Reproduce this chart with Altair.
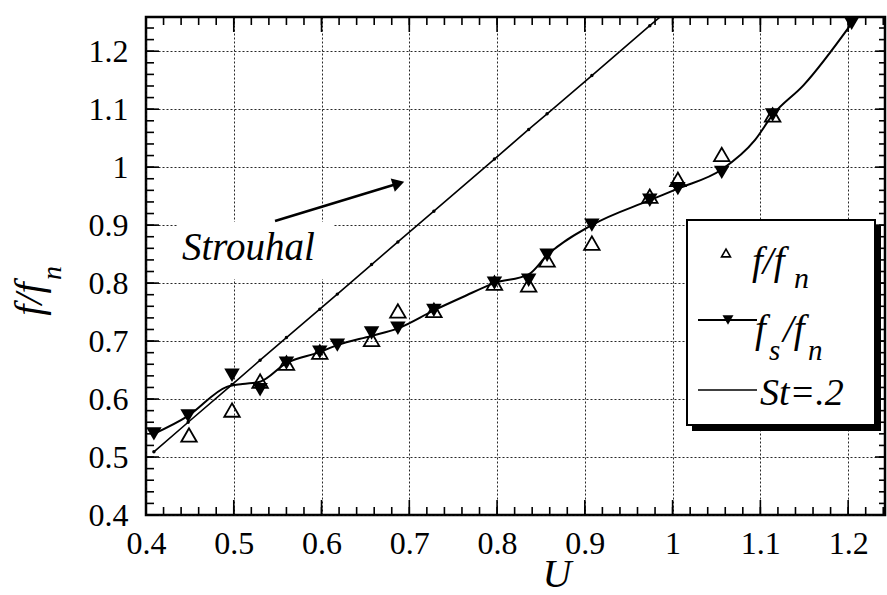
import altair as alt
import pandas as pd

# ---------------- data ----------------
# f_s/f_n : filled down-triangles
U_fs = [0.409, 0.448, 0.498, 0.530, 0.560, 0.598, 0.618, 0.657, 0.687, 0.728,
        0.797, 0.836, 0.857, 0.908, 0.974, 1.006, 1.056, 1.114, 1.204]
F_fs = [0.540, 0.571, 0.641, 0.616, 0.662, 0.681, 0.693, 0.714, 0.722, 0.753,
        0.800, 0.805, 0.848, 0.900, 0.943, 0.963, 0.991, 1.090, 1.248]

# smooth curve drawn through the f_s/f_n data
U_curve = [0.409, 0.448, 0.492, 0.510, 0.530, 0.560, 0.598, 0.618, 0.657, 0.687,
           0.728, 0.761, 0.797, 0.836, 0.857, 0.908, 0.974, 1.006, 1.056, 1.094,
           1.114, 1.149, 1.204]
F_curve = [0.540, 0.571, 0.621, 0.626, 0.630, 0.662, 0.681, 0.693, 0.709, 0.722,
           0.753, 0.776, 0.800, 0.815, 0.848, 0.900, 0.943, 0.963, 0.996, 1.047,
           1.090, 1.141, 1.248]

# f/f_n : open up-triangles
U_f = [0.449, 0.498, 0.530, 0.560, 0.598, 0.657, 0.687, 0.728, 0.797, 0.836,
       0.857, 0.908, 0.974, 1.006, 1.056, 1.114]
F_f = [0.538, 0.581, 0.631, 0.662, 0.681, 0.703, 0.752, 0.753, 0.800, 0.797,
       0.840, 0.869, 0.950, 0.979, 1.022, 1.090]

# Strouhal line St = .2 (small dots) and its end at the frame top
U_st = [0.409, 0.448, 0.498, 0.530, 0.560, 0.598, 0.618, 0.657, 0.687, 0.728,
        0.797, 0.836, 0.857, 0.908, 0.974]
F_st = [0.509, 0.560, 0.625, 0.667, 0.706, 0.755, 0.781, 0.832, 0.871, 0.924,
        1.014, 1.065, 1.092, 1.158, 1.244]
U_st_end = [0.995]
F_st_end = [1.271]

# annotation arrow (data coordinates)
ARROW_U = [0.547, 0.6855]
ARROW_F = [0.907, 0.971]

x_major = [0.4, 0.5, 0.6, 0.7, 0.8, 0.9, 1.0, 1.1, 1.2]
y_major = [0.4, 0.5, 0.6, 0.7, 0.8, 0.9, 1.0, 1.1, 1.2]
x_minor = [round(0.4 + 0.02 * i, 2) for i in range(43)]
y_minor = [round(0.4 + 0.02 * i, 2) for i in range(43)]

# ---------------- layout ----------------
W, H = 739, 498
XD = [0.4, 1.242]
YD = [0.4, 1.259]
FONT = "Liberation Serif"

xs = alt.Scale(domain=XD, nice=False, zero=False)
ys = alt.Scale(domain=YD, nice=False, zero=False)

X_AX = alt.Axis(values=x_major, format=".1~f", title=None, grid=True,
                gridDash=[2, 2], gridColor="#111", gridOpacity=0.9, gridWidth=1,
                ticks=False, domain=False, labelFont=FONT, labelFontSize=32,
                labelColor="black", labelPadding=13, labelOverlap=False,
                labelFlush=False)
Y_AX = alt.Axis(values=y_major, format=".1~f", title=None, grid=True,
                gridDash=[2, 2], gridColor="#111", gridOpacity=0.9, gridWidth=1,
                ticks=False, domain=False, labelFont=FONT, labelFontSize=32,
                labelColor="black", labelPadding=18, labelOverlap=False,
                labelFlush=False)

def X(f):
    return alt.X(f, type="quantitative", scale=xs, axis=X_AX)

def Y(f):
    return alt.Y(f, type="quantitative", scale=ys, axis=Y_AX)

one = pd.DataFrame({"a": [0]})

layers = []

# white background behind the "Strouhal" label (hides grid)
layers.append(alt.Chart(one).mark_rect(color="white").encode(
    x=alt.value(31), x2=alt.value(187), y=alt.value(205), y2=alt.value(262)))

# Strouhal line + dots
st_line = pd.DataFrame({"U": U_st + U_st_end, "F": F_st + F_st_end})
layers.append(alt.Chart(st_line).mark_line(color="black", strokeWidth=1.6, clip=True)
              .encode(x=X("U"), y=Y("F")))
st_pts = pd.DataFrame({"U": U_st, "F": F_st})
layers.append(alt.Chart(st_pts).mark_point(shape="circle", filled=True, color="black",
                                           size=12, opacity=1)
              .encode(x=X("U"), y=Y("F")))

# f_s/f_n curve and markers
curve = pd.DataFrame({"U": U_curve, "F": F_curve})
layers.append(alt.Chart(curve).mark_line(color="black", strokeWidth=2,
                                         interpolate="monotone")
              .encode(x=X("U"), y=Y("F")))
fs = pd.DataFrame({"U": U_fs, "F": F_fs})
layers.append(alt.Chart(fs).mark_point(shape="triangle-down", filled=True, color="black",
                                       size=240, opacity=1)
              .encode(x=X("U"), y=Y("F")))
ff = pd.DataFrame({"U": U_f, "F": F_f})
layers.append(alt.Chart(ff).mark_point(shape="triangle-up", filled=False, color="black",
                                       size=240, strokeWidth=1.8, opacity=1)
              .encode(x=X("U"), y=Y("F")))

# arrow
arrow = pd.DataFrame({"U": ARROW_U, "F": ARROW_F})
layers.append(alt.Chart(arrow).mark_line(color="black", strokeWidth=2.5)
              .encode(x=X("U"), y=Y("F")))
head = pd.DataFrame({"U": ARROW_U[1:], "F": ARROW_F[1:]})
layers.append(alt.Chart(head).mark_point(shape="triangle", filled=True, color="black",
                                         size=190, angle=73, opacity=1)
              .encode(x=X("U"), y=Y("F")))

# inward ticks on all four sides
def xticks(vals, length, top):
    d = pd.DataFrame({"v": vals})
    return alt.Chart(d).mark_rule(color="black", strokeWidth=1.6).encode(
        x=X("v"),
        y=alt.value(0 if top else H),
        y2=alt.value(length if top else H - length))

def yticks(vals, length, right):
    d = pd.DataFrame({"v": vals})
    return alt.Chart(d).mark_rule(color="black", strokeWidth=1.6).encode(
        y=Y("v"),
        x=alt.value(W if right else 0),
        x2=alt.value(W - length if right else length))

layers += [xticks(x_minor, 8, False), xticks(x_major, 15, False),
           xticks(x_minor, 8, True), xticks(x_major, 15, True),
           yticks(y_minor, 8, False), yticks(y_major, 13, False),
           yticks(y_minor, 6, True), yticks(y_major, 10, True)]

# legend box with drop shadow
layers.append(alt.Chart(one).mark_rect(color="black").encode(
    x=alt.value(546), x2=alt.value(735), y=alt.value(208), y2=alt.value(414)))
layers.append(alt.Chart(one).mark_rect(fill="white", stroke="black", strokeWidth=2).encode(
    x=alt.value(541), x2=alt.value(729), y=alt.value(203), y2=alt.value(408)))

# legend row 1: open triangle, f/f_n
layers.append(alt.Chart(one).mark_point(shape="triangle-up", filled=False, color="black",
                                        size=80, strokeWidth=1.6, opacity=1)
              .encode(x=alt.value(580), y=alt.value(236)))

def txt(s, x, y, size, angle=0, align="left", baseline="alphabetic"):
    return alt.Chart(one).mark_text(text=s, font=FONT, fontStyle="italic",
                                    fontSize=size, color="black", align=align,
                                    baseline=baseline, angle=angle).encode(
        x=alt.value(x), y=alt.value(y))

layers.append(txt("f/f", 606, 257, 39))
layers.append(txt("n", 648, 271, 30))

# legend row 2: line + filled down triangle, f_s/f_n
layers.append(alt.Chart(one).mark_rule(color="black", strokeWidth=2).encode(
    x=alt.value(552), x2=alt.value(611), y=alt.value(303)))
layers.append(alt.Chart(one).mark_point(shape="triangle-down", filled=True, color="black",
                                        size=120, opacity=1)
              .encode(x=alt.value(582), y=alt.value(303)))
layers.append(txt("f", 609, 325, 39))
layers.append(txt("s", 623, 343, 29))
layers.append(txt("/f", 637, 325, 39))
layers.append(txt("n", 662, 343, 29))

# legend row 3: plain line, St=.2
layers.append(alt.Chart(one).mark_rule(color="black", strokeWidth=1.6).encode(
    x=alt.value(552), x2=alt.value(611), y=alt.value(373)))
layers.append(txt("St=.2", 614, 388, 38))

# "Strouhal" annotation
layers.append(txt("Strouhal", 36, 243, 39))

# axis titles
layers.append(txt("U", 411, 558, 40, align="center", baseline="middle"))
layers.append(txt("f/f", -116, 282, 40, angle=270, align="center", baseline="middle"))
layers.append(txt("n", -93, 256, 28, angle=270, align="center", baseline="middle"))

chart = alt.layer(*layers).properties(
    width=W, height=H,
    autosize=alt.AutoSizeParams(type="none"),
    padding={"left": 146, "top": 17, "right": 2, "bottom": 80},
    background="white",
).configure_view(stroke="black", strokeWidth=2.5)

chart.save("out.html", embed_options={"renderer": "svg", "actions": False})
